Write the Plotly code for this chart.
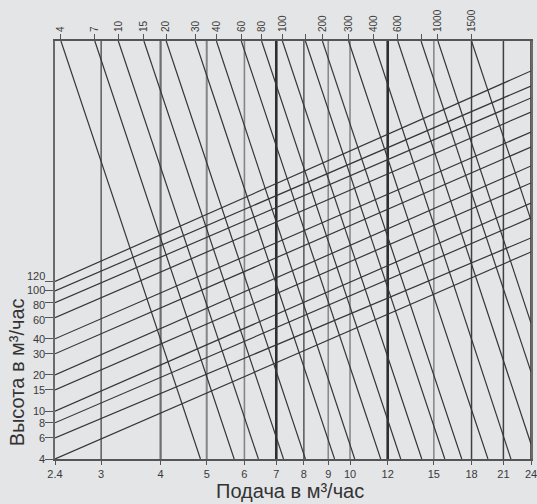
import math
import plotly.graph_objects as go

# ---------------- data ----------------
x_ticks = [2.4, 3, 4, 5, 6, 7, 8, 9, 10, 12, 15, 18, 21, 24]
x_tick_text = ["2.4", "3", "4", "5", "6", "7", "8", "9", "10", "12", "15", "18", "21", "24"]
grid_q = [3, 4, 5, 6, 7, 8, 9, 10, 12, 15, 18, 21, 24]

head_left = [4, 6, 8, 10, 15, 20, 30, 40, 60, 80, 100, 120]
head_right = [211, 276, 405, 539, 791, 1096, 1575, 2100, 3080, 4030, 5070, 6760]

H_BOTTOM = 4
H_TOP = 12000
Q_LEFT = 2.4
Q_RIGHT = 24

diag_labels = ["4", "7", "10", "15", "20", "30", "40", "60", "80", "100", "",
               "200", "300", "400", "600", "", "1000", "1500"]
diag_q_top = [2.47, 2.91, 3.26, 3.69, 4.11, 4.73, 5.24, 5.91, 6.52, 7.21, 8.06,
              8.75, 9.93, 11.2, 12.6, 14.1, 15.3, 18.0]
diag_q_end = [4.85, 5.71, 6.42, 7.25, 8.06, 9.28, 10.23, 11.60, 12.78, 14.15, 15.82,
              17.17, 19.49, 21.78, 24, 24, 24, 24]
diag_h_end = [4, 4, 4, 4, 4, 4, 4, 4, 4, 4, 4, 4, 4, 4, 5.33, 21.2, 54.0, 389]

# ---------------- styles ----------------
BG = "#e4e5e7"
LINE = "#363636"
grid_style = {
    3: ("#3a3a3a", 1.2), 4: ("#6e6e6e", 2.2), 5: ("#858585", 2.0), 6: ("#858585", 1.6),
    7: ("#2e2e2e", 2.6), 8: ("#404040", 1.3), 9: ("#8a8a8a", 1.6), 10: ("#8a8a8a", 1.6),
    12: ("#2e2e2e", 2.6), 15: ("#8a8a8a", 1.6), 18: ("#404040", 1.5), 21: ("#404040", 1.5),
    24: ("#5a5a5a", 2.0),
}
label_shift = {120: 5, 100: 1, 80: -2, 60: -2}   # pixel nudges so close labels do not collide
FONT = "Liberation Sans, Arial, sans-serif"
TICK_FONT = dict(size=11, color="#3a3a3a", family=FONT)

fig = go.Figure()

# vertical grid lines
for q in grid_q:
    c, w = grid_style[q]
    fig.add_trace(go.Scatter(x=[q, q], y=[H_BOTTOM, H_TOP], mode="lines",
                             line=dict(color=c, width=w), hoverinfo="skip",
                             showlegend=False))

# rising lines
for h0, h1 in zip(head_left, head_right):
    fig.add_trace(go.Scatter(x=[Q_LEFT, Q_RIGHT], y=[h0, h1], mode="lines",
                             line=dict(color=LINE, width=1.2), hoverinfo="skip",
                             showlegend=False))

# descending lines
for qt, qe, he in zip(diag_q_top, diag_q_end, diag_h_end):
    fig.add_trace(go.Scatter(x=[qt, qe], y=[H_TOP, he], mode="lines",
                             line=dict(color=LINE, width=1.2), hoverinfo="skip",
                             showlegend=False))

# dummy trace for top axis
fig.add_trace(go.Scatter(x=[diag_q_top[0]], y=[H_TOP], xaxis="x2", mode="markers",
                         marker=dict(opacity=0), hoverinfo="skip", showlegend=False))

xr = [math.log10(Q_LEFT), math.log10(Q_RIGHT)]
yr = [math.log10(H_BOTTOM), math.log10(H_TOP)]

annotations = [
    dict(text="Подача в м³/час", xref="paper", yref="paper",
         x=0.494, y=-0.077, xanchor="center", yanchor="middle",
         showarrow=False, font=dict(size=20, color="#333333", family=FONT)),
    dict(text="Высота в м³/час", xref="paper", yref="paper",
         x=-0.078, y=0.207, xanchor="center", yanchor="middle", textangle=-90,
         showarrow=False, font=dict(size=20, color="#333333", family=FONT)),
]
# y tick labels as annotations (so that the close ones can be nudged apart)
for h in head_left:
    annotations.append(dict(text=str(h), xref="paper", yref="y", x=0,
                            y=math.log10(h), xanchor="right", yanchor="middle",
                            xshift=-8, yshift=label_shift.get(h, 0),
                            showarrow=False, font=TICK_FONT))

fig.update_layout(
    width=537, height=504,
    margin=dict(l=55, r=6, t=41, b=45, autoexpand=False),
    paper_bgcolor=BG, plot_bgcolor=BG,
    font=dict(family=FONT, color="#3a3a3a"),
    xaxis=dict(type="log", range=xr, tickvals=x_ticks, ticktext=x_tick_text,
               showgrid=False, zeroline=False, showline=True, mirror=True,
               linecolor="#555555", linewidth=1.6, ticks="outside", ticklen=4,
               tickcolor="#555555", tickfont=TICK_FONT, automargin=False,
               ticklabeloverflow="allow"),
    xaxis2=dict(type="log", range=xr, overlaying="x", side="top",
                tickvals=diag_q_top, ticktext=diag_labels, tickangle=-90,
                showgrid=False, zeroline=False, showline=False,
                ticks="outside", ticklen=6, tickcolor="#555555",
                tickfont=dict(size=10, color="#3a3a3a", family=FONT),
                automargin=False),
    yaxis=dict(type="log", range=yr, tickvals=head_left, showticklabels=False,
               showgrid=False, zeroline=False, showline=True, mirror=True,
               linecolor="#6a6a6a", linewidth=1.5, ticks="outside", ticklen=8,
               tickcolor="#555555", automargin=False),
    annotations=annotations,
)

fig.write_html(
    "out.html",
    config={"displayModeBar": False},
    post_script="document.body.style.margin='0px';document.body.style.background='" + BG + "';",
)
